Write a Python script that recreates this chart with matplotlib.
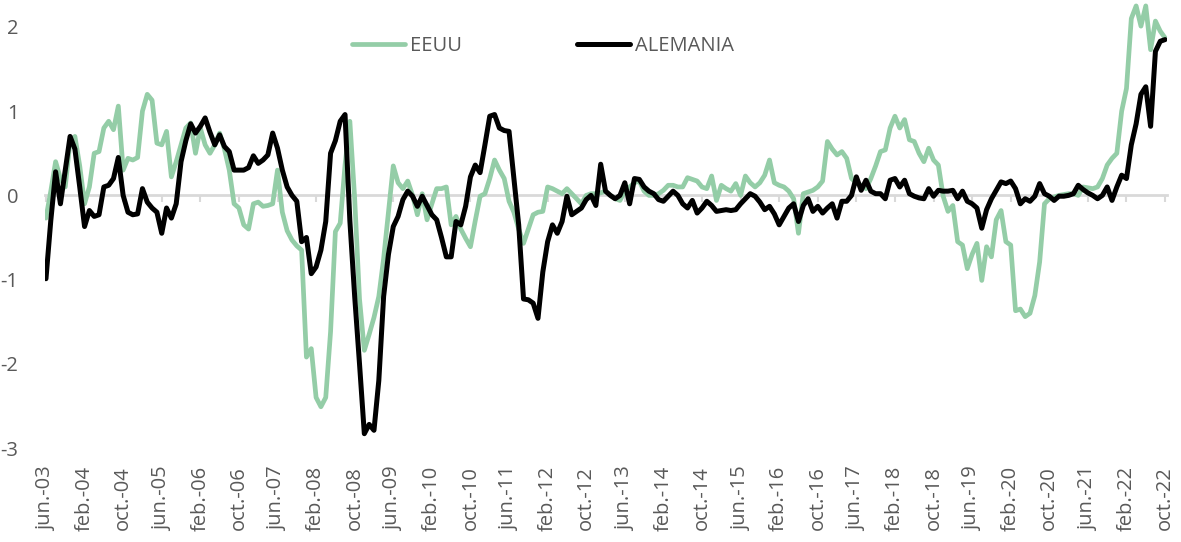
import matplotlib
matplotlib.use('Agg')
import matplotlib.pyplot as plt

plt.rcParams['font.family'] = ['Open Sans', 'DejaVu Sans']

# monthly values, jun-03 .. oct-22
eeuu = [-0.27, 0.05, 0.40, 0.20, 0.10, 0.65, 0.70, 0.35, -0.10, 0.10,
        0.50, 0.52, 0.80, 0.88, 0.78, 1.06, 0.30, 0.44, 0.42, 0.45,
        1.00, 1.20, 1.13, 0.62, 0.60, 0.76, 0.22, 0.40, 0.60, 0.80,
        0.86, 0.50, 0.80, 0.60, 0.50, 0.60, 0.74, 0.55, 0.30, -0.10,
        -0.15, -0.35, -0.40, -0.10, -0.08, -0.13, -0.12, -0.10, 0.30, -0.20,
        -0.42, -0.53, -0.60, -0.65, -1.92, -1.82, -2.40, -2.51, -2.40, -1.62,
        -0.43, -0.33, 0.36, 0.88, -0.04, -1.23, -1.84, -1.65, -1.45, -1.20,
        -0.75, -0.20, 0.35, 0.15, 0.08, 0.17, 0.00, -0.23, 0.02, -0.29,
        -0.10, 0.08, 0.08, 0.10, -0.35, -0.25, -0.40, -0.51, -0.61, -0.30,
        -0.01, 0.02, 0.20, 0.42, 0.30, 0.20, -0.07, -0.20, -0.40, -0.57,
        -0.40, -0.23, -0.20, -0.19, 0.10, 0.08, 0.05, 0.02, 0.08, 0.02,
        -0.04, -0.10, 0.00, 0.02, 0.02, 0.03, 0.05, 0.00, -0.04, -0.06,
        0.05, 0.10, 0.15, 0.17, 0.05, 0.00, 0.00, 0.02, 0.06, 0.12,
        0.12, 0.10, 0.10, 0.21, 0.19, 0.17, 0.10, 0.08, 0.23, -0.06,
        0.12, 0.08, 0.05, 0.14, 0.00, 0.23, 0.15, 0.10, 0.15, 0.24,
        0.42, 0.15, 0.12, 0.10, 0.05, -0.04, -0.45, 0.02, 0.04, 0.06,
        0.10, 0.17, 0.64, 0.55, 0.48, 0.52, 0.44, 0.20, 0.15, 0.12,
        0.08, 0.20, 0.35, 0.52, 0.54, 0.80, 0.94, 0.80, 0.90, 0.66,
        0.64, 0.50, 0.40, 0.56, 0.42, 0.36, -0.01, -0.19, -0.12, -0.55,
        -0.59, -0.87, -0.70, -0.57, -1.01, -0.61, -0.73, -0.29, -0.18, -0.55,
        -0.59, -1.37, -1.35, -1.44, -1.40, -1.19, -0.79, -0.10, -0.04, -0.02,
        0.00, 0.01, 0.02, 0.02, 0.00, 0.10, 0.09, 0.08, 0.10, 0.20,
        0.36, 0.44, 0.50, 1.00, 1.27, 2.10, 2.25, 2.01, 2.25, 1.73,
        2.07, 1.95, 1.87]

alemania = [-0.99, -0.30, 0.28, -0.10, 0.30, 0.70, 0.55, 0.10, -0.37, -0.18,
            -0.25, -0.23, 0.10, 0.12, 0.20, 0.45, 0.00, -0.20, -0.23, -0.22,
            0.08, -0.08, -0.15, -0.20, -0.45, -0.15, -0.27, -0.10, 0.40, 0.65,
            0.85, 0.74, 0.82, 0.92, 0.75, 0.60, 0.72, 0.58, 0.52, 0.30,
            0.30, 0.30, 0.33, 0.47, 0.38, 0.42, 0.48, 0.74, 0.56, 0.30,
            0.10, 0.00, -0.07, -0.55, -0.50, -0.93, -0.85, -0.65, -0.31, 0.50,
            0.65, 0.88, 0.96, -0.30, -1.20, -2.00, -2.83, -2.72, -2.79, -2.20,
            -1.20, -0.70, -0.37, -0.25, -0.05, 0.05, -0.01, -0.13, -0.01, -0.12,
            -0.23, -0.29, -0.50, -0.73, -0.73, -0.31, -0.35, -0.13, 0.22, 0.36,
            0.27, 0.60, 0.94, 0.96, 0.80, 0.77, 0.76, 0.20, -0.35, -1.23,
            -1.24, -1.28, -1.46, -0.91, -0.55, -0.35, -0.45, -0.31, -0.01, -0.23,
            -0.19, -0.15, -0.05, 0.00, -0.12, 0.37, 0.05, 0.00, -0.04, 0.00,
            0.15, -0.10, 0.20, 0.19, 0.10, 0.05, 0.02, -0.05, -0.07, -0.01,
            0.05, 0.00, -0.10, -0.15, -0.06, -0.21, -0.15, -0.07, -0.12, -0.19,
            -0.18, -0.17, -0.18, -0.17, -0.10, -0.04, 0.02, -0.01, -0.08, -0.17,
            -0.13, -0.22, -0.35, -0.25, -0.15, -0.10, -0.31, -0.12, -0.04, -0.19,
            -0.13, -0.21, -0.15, -0.10, -0.27, -0.07, -0.07, 0.00, 0.22, 0.06,
            0.18, 0.05, 0.02, 0.02, -0.04, 0.18, 0.20, 0.10, 0.18, 0.02,
            -0.01, -0.03, -0.04, 0.08, -0.01, 0.06, 0.05, 0.05, 0.06, -0.04,
            0.05, -0.07, -0.10, -0.15, -0.39, -0.17, -0.04, 0.06, 0.16, 0.14,
            0.17, 0.08, -0.10, -0.04, -0.07, -0.01, 0.14, 0.02, -0.01, -0.06,
            -0.01, -0.01, 0.00, 0.02, 0.12, 0.07, 0.03, 0.00, -0.04, 0.00,
            0.10, -0.06, 0.10, 0.24, 0.20, 0.60, 0.85, 1.20, 1.29, 0.82,
            1.71, 1.83, 1.85]

xlabels = ['jun.-03', 'feb.-04', 'oct.-04', 'jun.-05', 'feb.-06', 'oct.-06',
           'jun.-07', 'feb.-08', 'oct.-08', 'jun.-09', 'feb.-10', 'oct.-10',
           'jun.-11', 'feb.-12', 'oct.-12', 'jun.-13', 'feb.-14', 'oct.-14',
           'jun.-15', 'feb.-16', 'oct.-16', 'jun.-17', 'feb.-18', 'oct.-18',
           'jun.-19', 'feb.-20', 'oct.-20', 'jun.-21', 'feb.-22', 'oct.-22']
yticks = [-3, -2, -1, 0, 1, 2]

txt = '#595959'
grid = '#d9d9d9'

W, H = 1181, 542
fig = plt.figure(figsize=(W/100, H/100), dpi=100)
ax = fig.add_axes([45/W, 1-448/H, (1167-45)/W, (448-1.7)/H])

t = list(range(len(eeuu)))
ax.plot(t, eeuu, color='#94cda7', linewidth=3.4, label='EEUU',
        solid_joinstyle='round', solid_capstyle='round')
ax.plot(t, alemania, color='black', linewidth=3.6, label='ALEMANIA',
        solid_joinstyle='round', solid_capstyle='round')

ax.set_xlim(-0.2, 232.4)
ax.set_ylim(-3, 2.3)

# category axis sits on the zero line, labels stay at the bottom
for s in ['top', 'right', 'left']:
  ax.spines[s].set_visible(False)
ax.spines['bottom'].set_position(('data', 0))
ax.spines['bottom'].set_color(grid)
ax.spines['bottom'].set_linewidth(2)
ax.spines['bottom'].set_zorder(0)
ticks = list(range(0, len(eeuu), 8))
ax.set_xticks(ticks)
ax.tick_params(axis='x', direction='out', length=5, width=1.5, color=grid,
               labelbottom=False)
ax.set_yticks(yticks)
ax.set_yticklabels([str(v) for v in yticks])
ax.tick_params(axis='y', length=0, pad=19, labelsize=14.5, labelcolor=txt)

sec = ax.secondary_xaxis('bottom')
sec.set_xticks(ticks)
sec.set_xticklabels(xlabels, rotation=90)
sec.spines['bottom'].set_visible(False)
sec.tick_params(length=0, pad=13, labelsize=14.5, labelcolor=txt)

leg = ax.legend(loc='center', bbox_to_anchor=(543/W, 1-46/H),
                bbox_transform=fig.transFigure, ncol=2, frameon=False,
                fontsize=14.5, handlelength=2.65, handletextpad=0.25,
                columnspacing=5.7)
for tx in leg.get_texts():
  tx.set_color(txt)

fig.savefig('out.png', dpi=100)
